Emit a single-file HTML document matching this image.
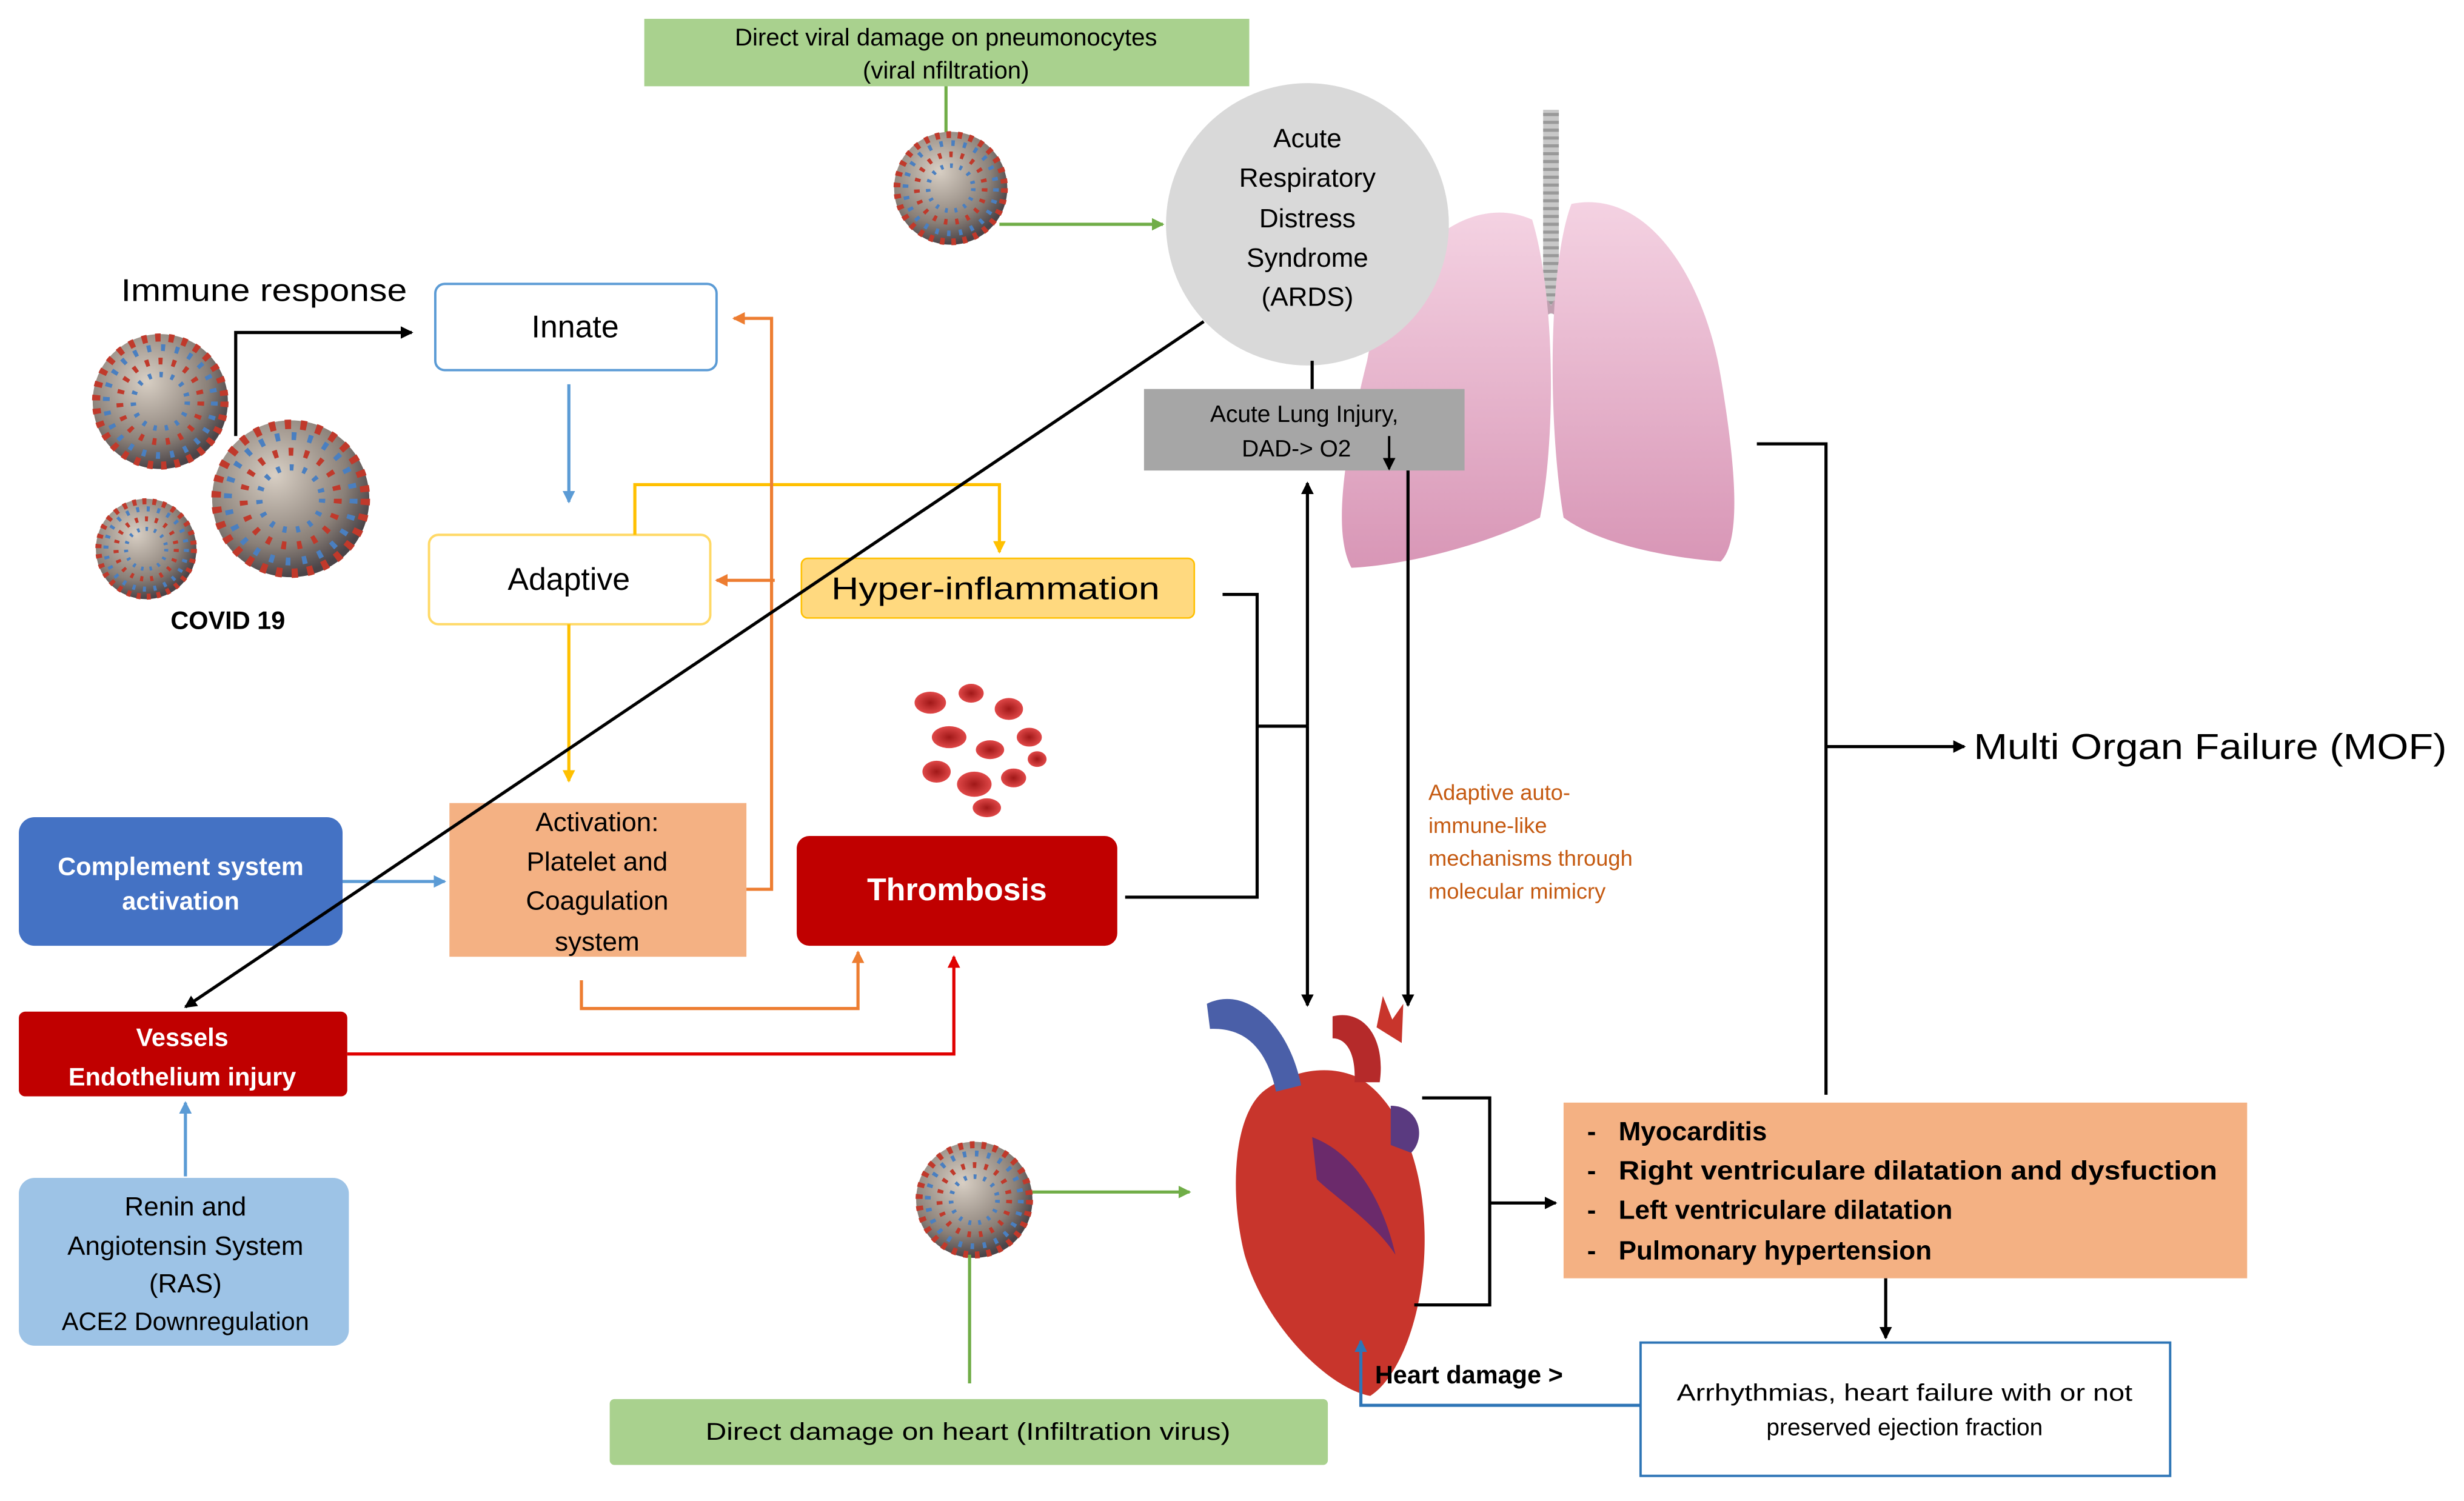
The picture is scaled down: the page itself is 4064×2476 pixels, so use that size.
<!DOCTYPE html>
<html><head><meta charset="utf-8"><style>
html,body{margin:0;padding:0;background:#fff;}
svg{display:block;}
text{font-family:"Liberation Sans","DejaVu Sans",sans-serif;}
</style></head><body>
<svg width="4064" height="2476" viewBox="0 0 1568 957" preserveAspectRatio="none" xmlns="http://www.w3.org/2000/svg">
<defs>
<radialGradient id="vg" cx="40%" cy="35%" r="65%"><stop offset="0" stop-color="#d8cfc4"/><stop offset="0.7" stop-color="#8a8078"/><stop offset="1" stop-color="#4a4448"/></radialGradient>
<radialGradient id="rb" cx="50%" cy="50%" r="50%"><stop offset="0" stop-color="#a01818"/><stop offset="1" stop-color="#e04848"/></radialGradient>
<linearGradient id="lg" x1="0" y1="0" x2="0" y2="1"><stop offset="0" stop-color="#f4d2e2"/><stop offset="1" stop-color="#d896b6"/></linearGradient>
<marker id="ak" markerWidth="8" markerHeight="8" refX="7" refY="4" orient="auto" markerUnits="userSpaceOnUse"><path d="M0,0 L8,4 L0,8z" fill="#000"/></marker>
<marker id="ag" markerWidth="8" markerHeight="8" refX="7" refY="4" orient="auto" markerUnits="userSpaceOnUse"><path d="M0,0 L8,4 L0,8z" fill="#70ad47"/></marker>
<marker id="ab" markerWidth="8" markerHeight="8" refX="7" refY="4" orient="auto" markerUnits="userSpaceOnUse"><path d="M0,0 L8,4 L0,8z" fill="#5b9bd5"/></marker>
<marker id="ay" markerWidth="8" markerHeight="8" refX="7" refY="4" orient="auto" markerUnits="userSpaceOnUse"><path d="M0,0 L8,4 L0,8z" fill="#ffc000"/></marker>
<marker id="ao" markerWidth="8" markerHeight="8" refX="7" refY="4" orient="auto" markerUnits="userSpaceOnUse"><path d="M0,0 L8,4 L0,8z" fill="#ed7d31"/></marker>
<marker id="ar" markerWidth="8" markerHeight="8" refX="7" refY="4" orient="auto" markerUnits="userSpaceOnUse"><path d="M0,0 L8,4 L0,8z" fill="#e00000"/></marker>
<marker id="abl" markerWidth="8" markerHeight="8" refX="7" refY="4" orient="auto" markerUnits="userSpaceOnUse"><path d="M0,0 L8,4 L0,8z" fill="#2e75b6"/></marker>
<g id="virus">
<circle r="1" fill="url(#vg)"/>
<circle r="0.95" fill="none" stroke="#c0392b" stroke-width="0.12" stroke-dasharray="0.08 0.12"/>
<circle r="0.8" fill="none" stroke="#4a7fc0" stroke-width="0.1" stroke-dasharray="0.06 0.15"/>
<circle r="0.6" fill="none" stroke="#c0392b" stroke-width="0.1" stroke-dasharray="0.06 0.14"/>
<circle r="0.4" fill="none" stroke="#4a7fc0" stroke-width="0.08" stroke-dasharray="0.05 0.12"/>
</g>
</defs>
<rect width="1568" height="957" fill="#fff"/>

<!-- lungs -->
<rect x="982" y="70" width="10" height="130" fill="#c8c8c8"/>
<line x1="987" y1="72" x2="987" y2="198" stroke="#999" stroke-width="10" stroke-dasharray="2 3"/>
<path d="M987,195 L950,215 M987,195 L1025,215" stroke="#c0a0b0" stroke-width="8" fill="none"/>
<path d="M975,140 C930,120 880,170 870,230 C855,290 848,340 860,362 C900,360 950,345 980,330 C990,280 990,190 975,140z" fill="url(#lg)"/>
<path d="M1000,130 C1050,120 1085,180 1095,240 C1105,300 1108,345 1095,358 C1055,355 1015,345 995,330 C985,270 985,170 1000,130z" fill="url(#lg)"/>

<!-- ARDS -->
<circle cx="832" cy="143" r="90" fill="#d9d9d9"/>
<text font-size="17" text-anchor="middle" fill="#000"><tspan x="832" y="94">Acute</tspan><tspan x="832" y="119">Respiratory</tspan><tspan x="832" y="145">Distress</tspan><tspan x="832" y="170">Syndrome</tspan><tspan x="832" y="195">(ARDS)</tspan></text>

<rect x="728" y="248" width="204" height="52" fill="#a6a6a6"/>
<text font-size="15" text-anchor="middle"><tspan x="830" y="269">Acute Lung Injury,</tspan><tspan x="825" y="291">DAD-&gt; O2</tspan></text>
<line x1="884" y1="278" x2="884" y2="299" stroke="#000" stroke-width="1.5" marker-end="url(#ak)"/>
<line x1="835" y1="230" x2="835" y2="248" stroke="#000" stroke-width="2"/>

<!-- top green -->
<rect x="410" y="12" width="385" height="43" fill="#a9d18e"/>
<text font-size="15.5" text-anchor="middle"><tspan x="602" y="29">Direct viral damage on pneumonocytes</tspan><tspan x="602" y="50">(viral nfiltration)</tspan></text>
<line x1="602" y1="55" x2="602" y2="86" stroke="#70ad47" stroke-width="2"/>
<use href="#virus" transform="translate(605,120) scale(36)"/>
<line x1="636" y1="143" x2="740" y2="143" stroke="#70ad47" stroke-width="2" marker-end="url(#ag)"/>

<!-- immune -->
<text x="77" y="192" font-size="20" textLength="182" lengthAdjust="spacingAndGlyphs">Immune response</text>
<use href="#virus" transform="translate(102,256) scale(43)"/>
<use href="#virus" transform="translate(185,318) scale(50)"/>
<use href="#virus" transform="translate(93,350) scale(32)"/>
<text x="145" y="401" font-size="16" font-weight="bold" text-anchor="middle">COVID 19</text>
<polyline points="150,278 150,212 262,212" fill="none" stroke="#000" stroke-width="2" marker-end="url(#ak)"/>

<rect x="277" y="181" width="179" height="55" rx="6" fill="#fff" stroke="#5b9bd5" stroke-width="1.5"/>
<text x="366" y="215" font-size="20" text-anchor="middle">Innate</text>
<line x1="362" y1="245" x2="362" y2="320" stroke="#5b9bd5" stroke-width="2" marker-end="url(#ab)"/>

<rect x="273" y="341" width="179" height="57" rx="6" fill="#fff" stroke="#ffd966" stroke-width="1.5"/>
<text x="362" y="376" font-size="20" text-anchor="middle">Adaptive</text>
<polyline points="404,341 404,309 636,309 636,352" fill="none" stroke="#ffc000" stroke-width="2" marker-end="url(#ay)"/>
<line x1="362" y1="398" x2="362" y2="498" stroke="#ffc000" stroke-width="2" marker-end="url(#ay)"/>

<rect x="510" y="356" width="250" height="38" rx="4" fill="#ffd97f" stroke="#ffc000" stroke-width="1"/>
<text x="529" y="382" font-size="20" textLength="209" lengthAdjust="spacingAndGlyphs">Hyper-inflammation</text>
<line x1="493" y1="370" x2="456" y2="370" stroke="#ed7d31" stroke-width="2" marker-end="url(#ao)"/>

<rect x="286" y="512" width="189" height="98" fill="#f4b183"/>
<text font-size="17" text-anchor="middle"><tspan x="380" y="530">Activation:</tspan><tspan x="380" y="555">Platelet and</tspan><tspan x="380" y="580">Coagulation</tspan><tspan x="380" y="606">system</tspan></text>
<polyline points="475,567 491,567 491,203 467,203" fill="none" stroke="#ed7d31" stroke-width="2" marker-end="url(#ao)"/>
<polyline points="370,625 370,643 546,643 546,607" fill="none" stroke="#ed7d31" stroke-width="2" marker-end="url(#ao)"/>

<rect x="12" y="521" width="206" height="82" rx="10" fill="#4472c4"/>
<text font-size="16" font-weight="bold" fill="#fff" text-anchor="middle"><tspan x="115" y="558">Complement system</tspan><tspan x="115" y="580">activation</tspan></text>
<line x1="218" y1="562" x2="283" y2="562" stroke="#5b9bd5" stroke-width="2" marker-end="url(#ab)"/>

<line x1="766" y1="205" x2="118" y2="642" stroke="#000" stroke-width="2" marker-end="url(#ak)"/>

<rect x="507" y="533" width="204" height="70" rx="8" fill="#c00000"/>
<text x="609" y="574" font-size="20" font-weight="bold" fill="#fff" text-anchor="middle">Thrombosis</text>

<!-- blood cells -->
<g fill="url(#rb)">
<ellipse cx="592" cy="448" rx="10" ry="7"/><ellipse cx="618" cy="442" rx="8" ry="6"/><ellipse cx="642" cy="452" rx="9" ry="7"/>
<ellipse cx="604" cy="470" rx="11" ry="7"/><ellipse cx="630" cy="478" rx="9" ry="6"/><ellipse cx="655" cy="470" rx="8" ry="6"/>
<ellipse cx="596" cy="492" rx="9" ry="7"/><ellipse cx="620" cy="500" rx="11" ry="8"/><ellipse cx="645" cy="496" rx="8" ry="6"/>
<ellipse cx="628" cy="515" rx="9" ry="6"/><ellipse cx="660" cy="484" rx="6" ry="5"/>
</g>

<rect x="12" y="645" width="209" height="54" rx="4" fill="#c00000"/>
<text font-size="16" font-weight="bold" fill="#fff" text-anchor="middle"><tspan x="116" y="667">Vessels</tspan><tspan x="116" y="692">Endothelium injury</tspan></text>
<polyline points="221,672 607,672 607,610" fill="none" stroke="#e00000" stroke-width="2" marker-end="url(#ar)"/>

<rect x="12" y="751" width="210" height="107" rx="10" fill="#9dc3e6"/>
<text font-size="17" text-anchor="middle"><tspan x="118" y="775">Renin and</tspan><tspan x="118" y="800">Angiotensin System</tspan><tspan x="118" y="824">(RAS)</tspan><tspan x="118" y="848" font-size="16">ACE2 Downregulation</tspan></text>
<line x1="118" y1="750" x2="118" y2="703" stroke="#5b9bd5" stroke-width="2" marker-end="url(#ab)"/>

<!-- black connectors -->
<polyline points="778,379 800,379 800,572 716,572" fill="none" stroke="#000" stroke-width="2"/>
<line x1="800" y1="463" x2="832" y2="463" stroke="#000" stroke-width="2"/>
<line x1="832" y1="463" x2="832" y2="308" stroke="#000" stroke-width="2" marker-end="url(#ak)"/>
<line x1="832" y1="463" x2="832" y2="641" stroke="#000" stroke-width="2" marker-end="url(#ak)"/>
<line x1="896" y1="300" x2="896" y2="641" stroke="#000" stroke-width="2" marker-end="url(#ak)"/>

<text font-size="14" fill="#c55a11"><tspan x="909" y="510">Adaptive auto-</tspan><tspan x="909" y="531">immune-like</tspan><tspan x="909" y="552">mechanisms through</tspan><tspan x="909" y="573">molecular mimicry</tspan></text>

<!-- MOF -->
<polyline points="1118,283 1162,283 1162,698" fill="none" stroke="#000" stroke-width="2"/>
<line x1="1162" y1="476" x2="1250" y2="476" stroke="#000" stroke-width="2" marker-end="url(#ak)"/>
<text x="1256" y="484" font-size="23" textLength="301" lengthAdjust="spacingAndGlyphs">Multi Organ Failure (MOF)</text>

<!-- heart -->
<path d="M805,695 C785,710 782,760 792,800 C805,845 845,885 872,890 C895,875 912,820 905,765 C900,725 882,695 862,686 C842,678 820,684 805,695z" fill="#c8352c"/>
<path d="M835,725 C862,735 880,765 888,800 C875,780 852,765 838,752z" fill="#6b2a6b"/>
<path d="M768,640 C792,628 820,652 828,692 L812,696 C806,668 792,655 770,656z" fill="#4a5fa8"/>
<path d="M848,648 C868,643 882,662 878,690 L862,690 C863,672 857,662 848,662z" fill="#b52a2a"/>
<path d="M876,655 L880,635 L886,650 L893,640 L892,665z" fill="#c8352c"/>
<path d="M885,705 C903,705 908,725 898,735 L885,730z" fill="#5a3a80"/>

<polyline points="905,700 948,700 948,832 900,832" fill="none" stroke="#000" stroke-width="2"/>
<line x1="948" y1="767" x2="990" y2="767" stroke="#000" stroke-width="2" marker-end="url(#ak)"/>

<rect x="995" y="703" width="435" height="112" fill="#f4b183"/>
<text font-size="17" font-weight="bold"><tspan x="1010" y="727">-</tspan><tspan x="1030" y="727">Myocarditis</tspan><tspan x="1010" y="752">-</tspan><tspan x="1030" y="752" textLength="381" lengthAdjust="spacingAndGlyphs">Right ventriculare dilatation and dysfuction</tspan><tspan x="1010" y="777">-</tspan><tspan x="1030" y="777">Left ventriculare dilatation</tspan><tspan x="1010" y="803">-</tspan><tspan x="1030" y="803">Pulmonary hypertension</tspan></text>
<line x1="1200" y1="815" x2="1200" y2="853" stroke="#000" stroke-width="2" marker-end="url(#ak)"/>

<rect x="1044" y="856" width="337" height="85" fill="#fff" stroke="#2e75b6" stroke-width="1.5"/>
<text font-size="15" text-anchor="middle"><tspan x="1212" y="893" textLength="290" lengthAdjust="spacingAndGlyphs">Arrhythmias, heart failure with  or not</tspan><tspan x="1212" y="915">preserved ejection fraction</tspan></text>
<polyline points="1044,896 866,896 866,855" fill="none" stroke="#2e75b6" stroke-width="2" marker-end="url(#abl)"/>
<text x="875" y="882" font-size="16" font-weight="bold">Heart damage &gt;</text>

<!-- bottom virus -->
<use href="#virus" transform="translate(620,765) scale(37)"/>
<line x1="657" y1="760" x2="757" y2="760" stroke="#70ad47" stroke-width="2" marker-end="url(#ag)"/>
<line x1="617" y1="800" x2="617" y2="882" stroke="#70ad47" stroke-width="2"/>
<rect x="388" y="892" width="457" height="42" rx="3" fill="#a9d18e"/>
<text x="616" y="918" font-size="15.5" text-anchor="middle" textLength="334" lengthAdjust="spacingAndGlyphs">Direct damage on heart (Infiltration virus)</text>
</svg>
</body></html>
